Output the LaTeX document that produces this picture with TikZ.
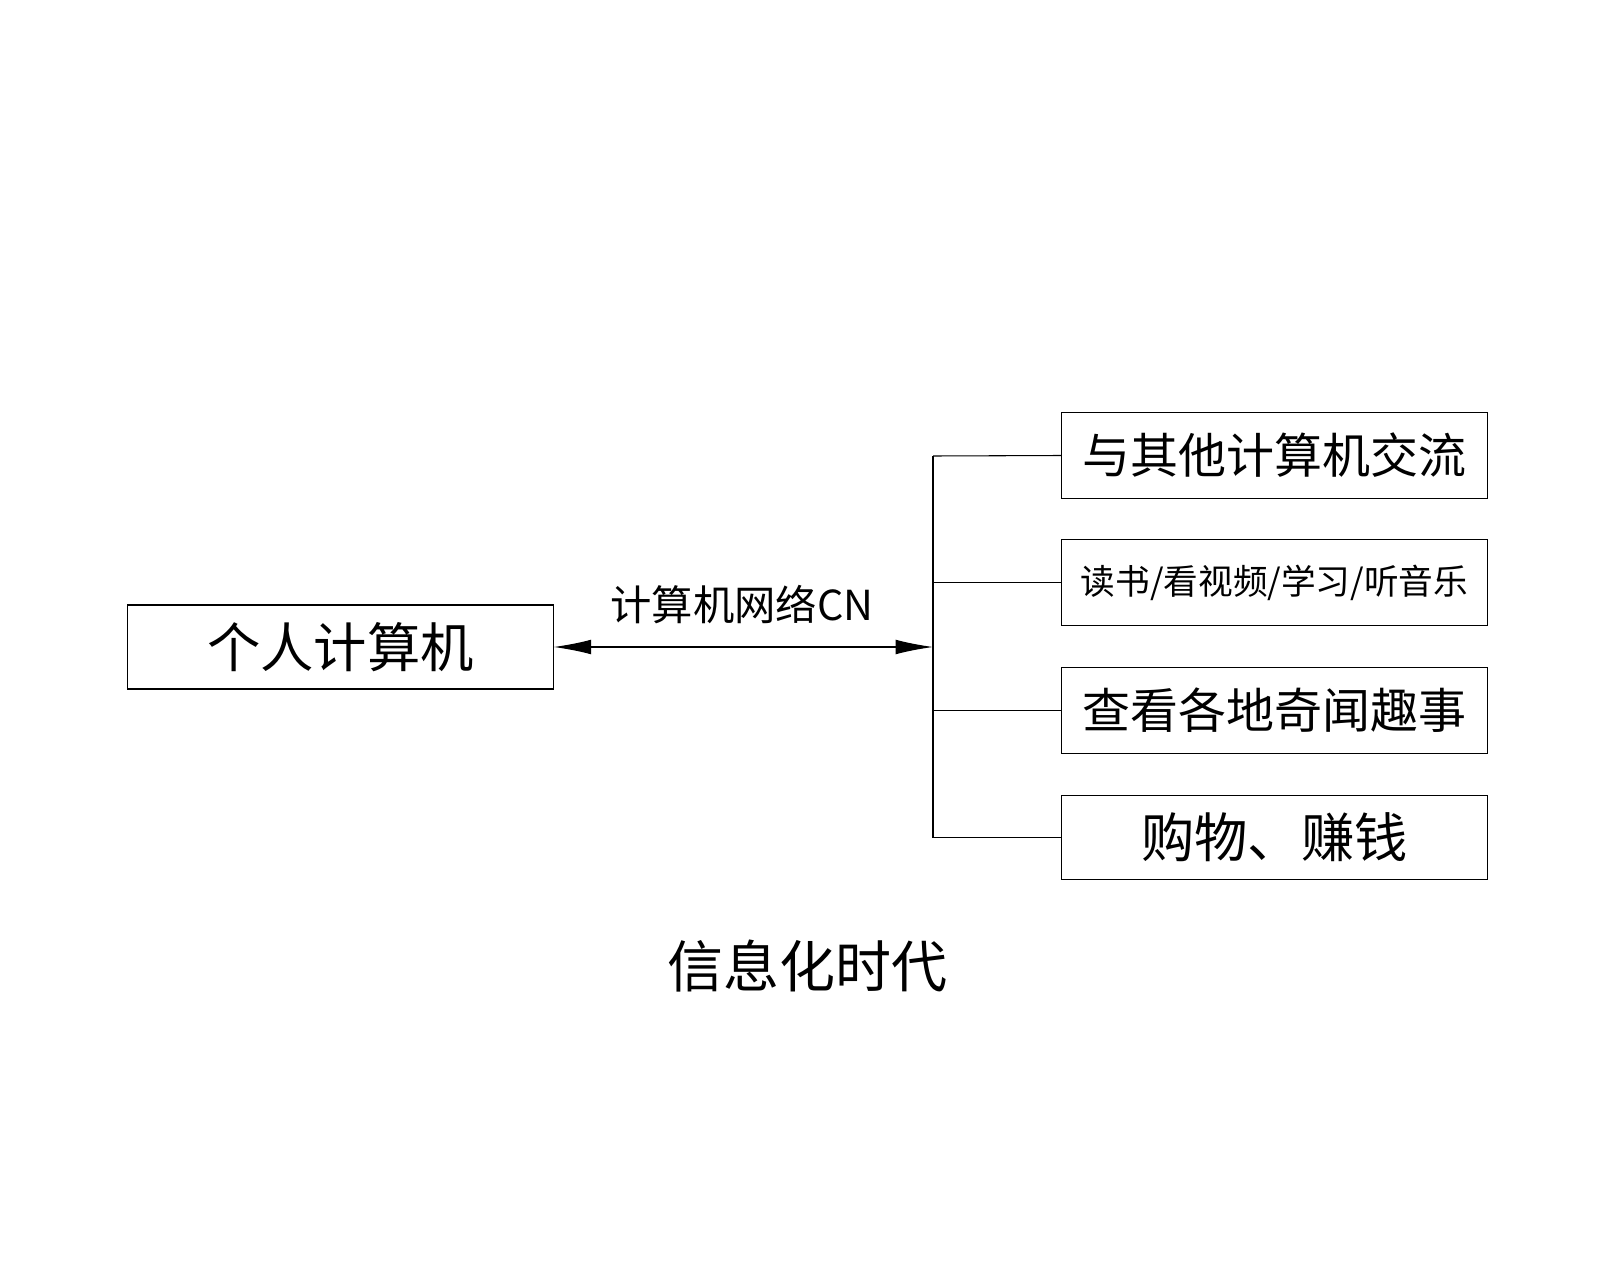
\documentclass[tikz,border=0pt]{standalone}
\usepackage{fontspec}
\setmainfont{Noto Sans CJK SC}
\usetikzlibrary{arrows.meta}
\begin{document}
\begin{tikzpicture}[x=0.75pt,y=-0.75pt,
  bx/.style={draw,line width=0.8pt,inner sep=0pt},
  ln/.style={line width=0.8pt},
  tip/.style={-{Latex[length=28pt,width=12pt]}}]
\useasboundingbox (0,0) rectangle (1600,1280);
\node[bx,minimum width=319pt,minimum height=63pt,font=\fontsize{40}{40}\selectfont] (pc) at (340.5,647) {个人计算机};
\node[bx,minimum width=319pt,minimum height=64pt,font=\fontsize{36}{36}\selectfont] (b1) at (1274.5,455.5) {与其他计算机交流};
\node[bx,minimum width=319pt,minimum height=64pt,font=\fontsize{26}{26}\selectfont] (b2) at (1274.5,582.5) {读书/看视频/学习/听音乐};
\node[bx,minimum width=319pt,minimum height=64pt,font=\fontsize{36}{36}\selectfont] (b3) at (1274.5,710.5) {查看各地奇闻趣事};
\node[bx,minimum width=319pt,minimum height=63pt,font=\fontsize{40}{40}\selectfont] (b4) at (1274.5,837.5) {购物、赚钱};
\coordinate (j) at (933,647);
\coordinate (jt) at (933,456);
\coordinate (jb) at (933,837.5);
\draw[ln,{Latex[length=28pt,width=11pt]}-{Latex[length=28pt,width=11pt]}] (pc.east) -- (j);
\node[font=\fontsize{31}{31}\selectfont] (lab) at (742,605) {计算机网络CN};
\draw[ln] (jt) -- (jb);
\draw[ln] (jt) -- (b1.west);
\draw[ln] (933,582.5) -- (b2.west);
\draw[ln] (933,710.5) -- (b3.west);
\draw[ln] (jb) -- (b4.west);
\node[font=\fontsize{42}{42}\selectfont] (title) at (807,966) {信息化时代};
\end{tikzpicture}
\end{document}
